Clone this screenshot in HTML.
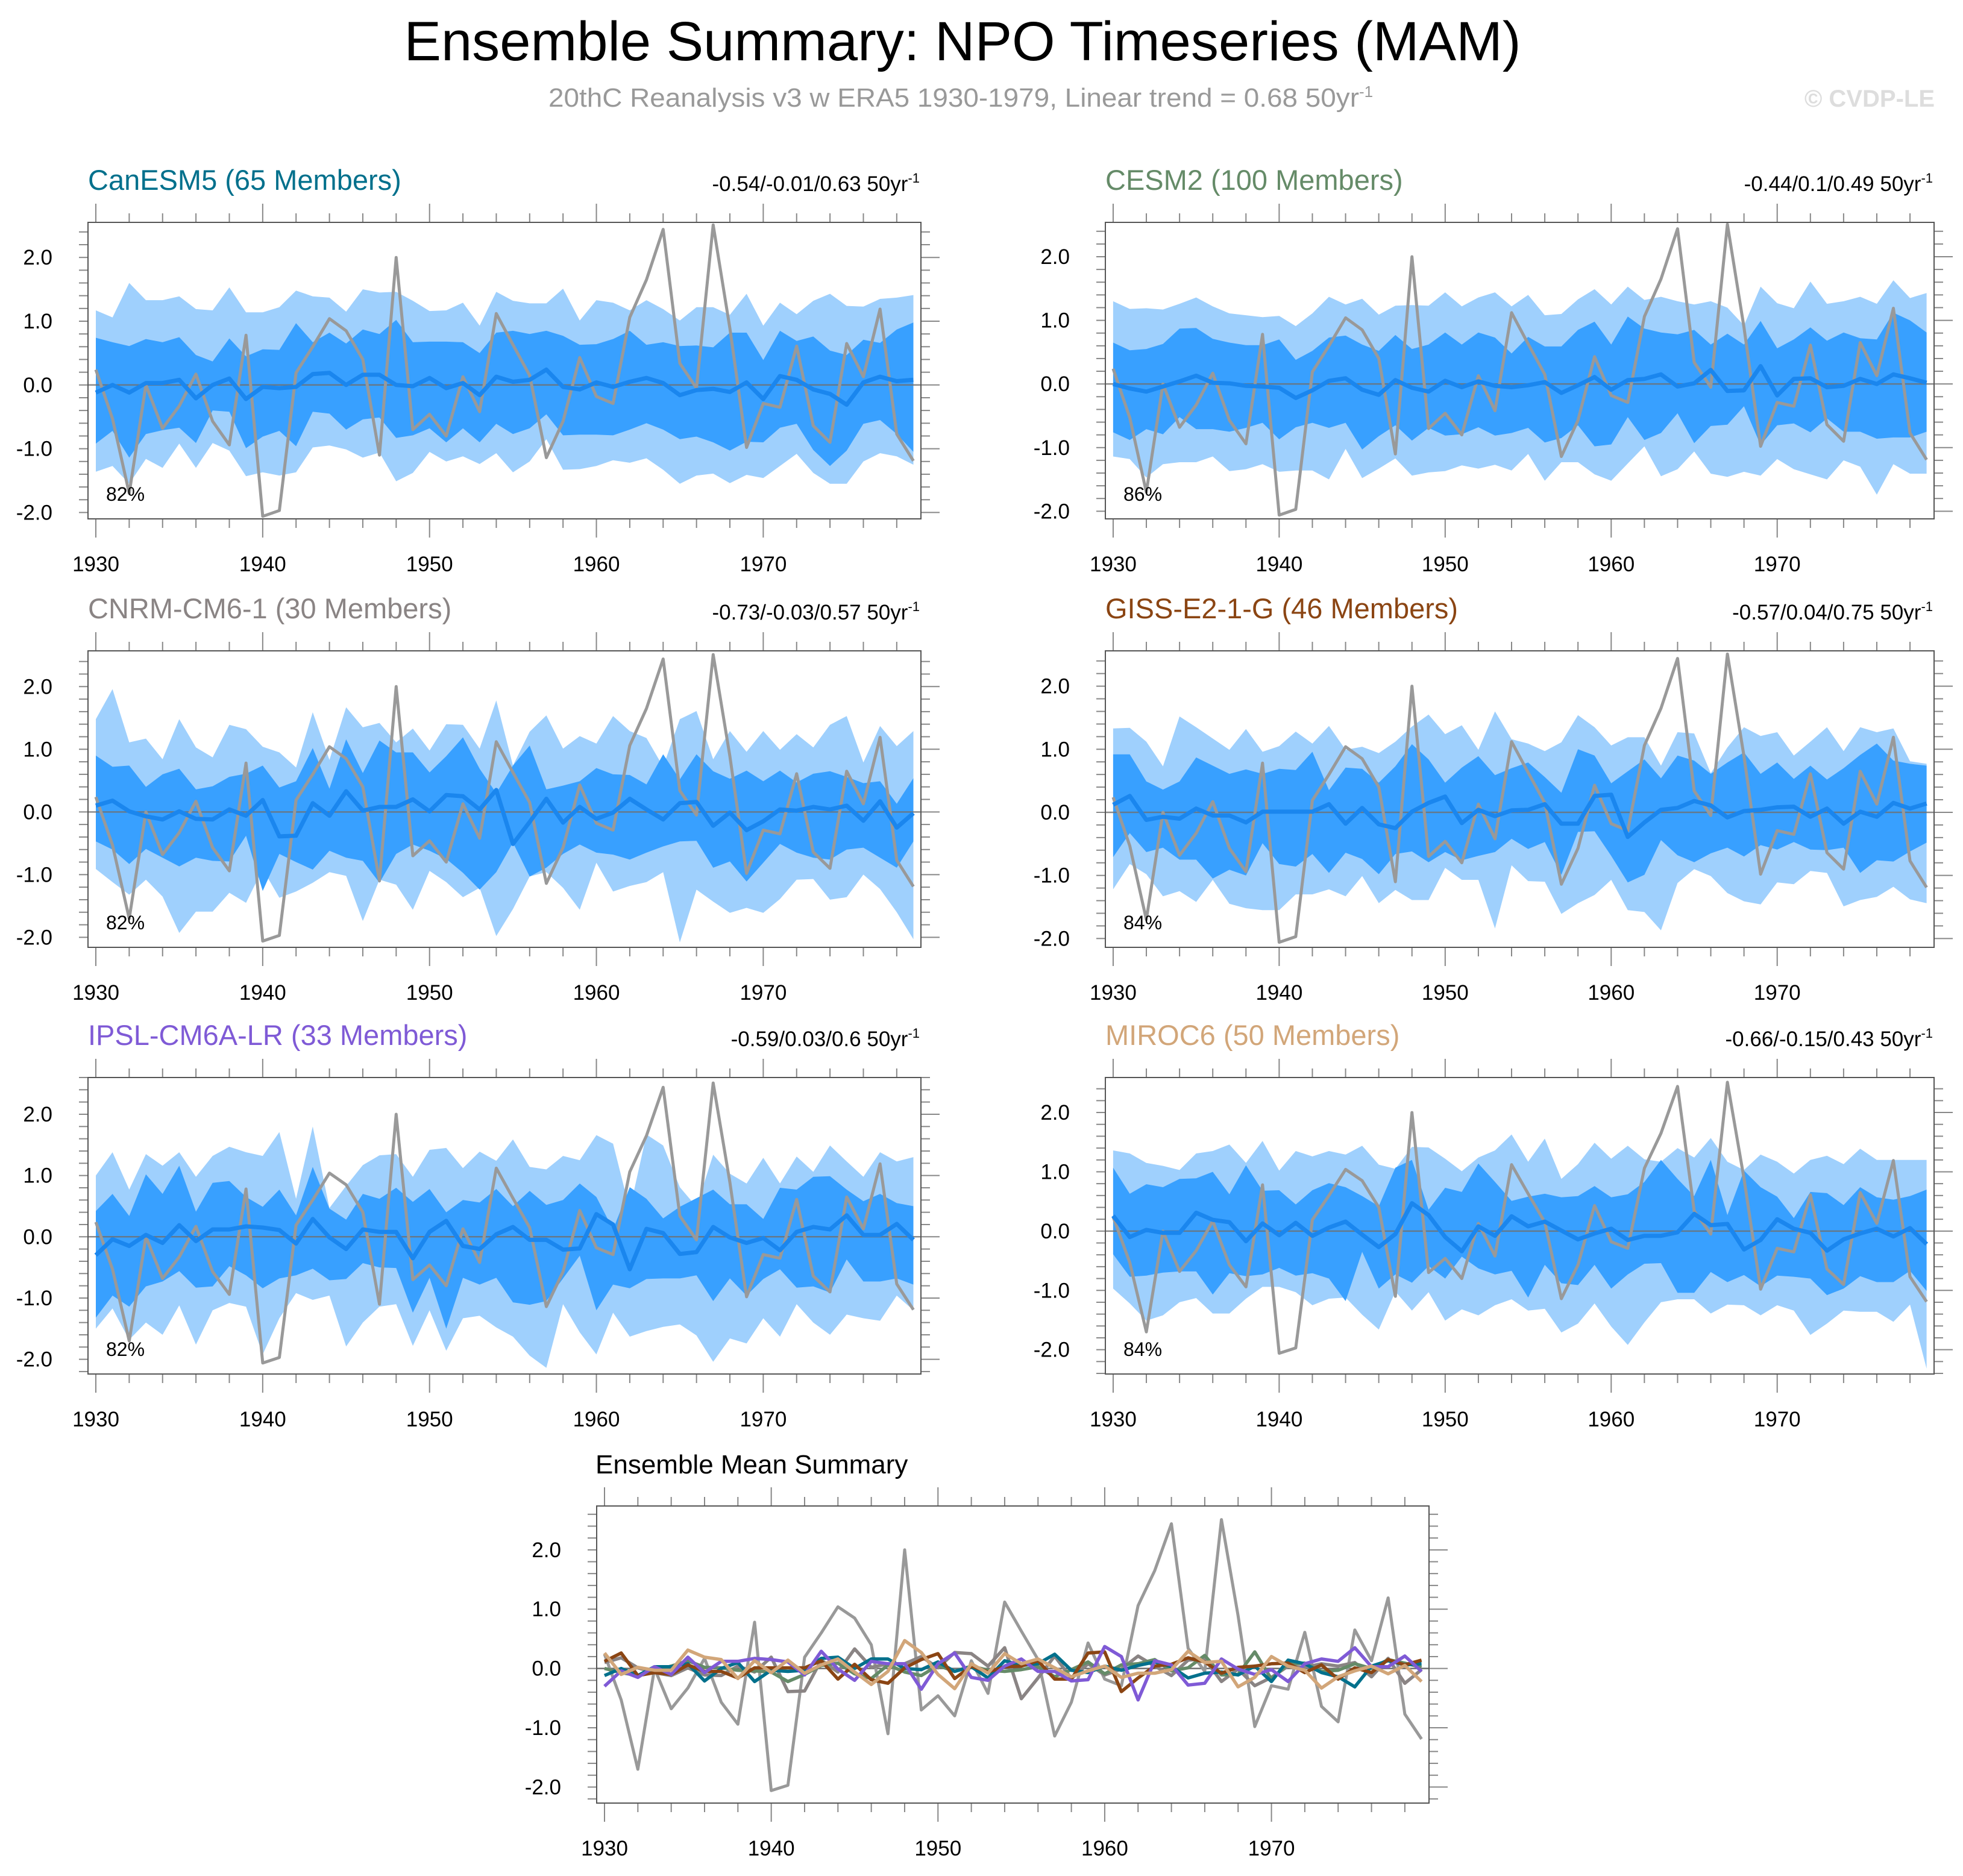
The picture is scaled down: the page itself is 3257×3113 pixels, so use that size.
<!DOCTYPE html>
<html><head><meta charset="utf-8"><title>Ensemble Summary: NPO Timeseries (MAM)</title>
<style>html,body{margin:0;padding:0;background:#fff}svg{display:block}text{font-family:"Liberation Sans",Arial,sans-serif}</style>
</head><body>
<svg id="fig" xmlns="http://www.w3.org/2000/svg" width="3257" height="3113" viewBox="0 0 3257 3113">
<rect width="3257" height="3113" fill="#fff"/>
<text x="1597" y="100" text-anchor="middle" font-size="92" textLength="1853" lengthAdjust="spacingAndGlyphs" fill="#000">Ensemble Summary: NPO Timeseries (MAM)</text>
<text x="910" y="177" font-size="44" fill="#999"><tspan textLength="1345" lengthAdjust="spacingAndGlyphs">20thC Reanalysis v3 w ERA5 1930-1979, Linear trend = 0.68 50yr</tspan><tspan dy="-16" font-size="26">-1</tspan></text>
<text x="3210" y="177" text-anchor="end" font-size="40" font-weight="bold" fill="#ddd">© CVDP-LE</text>
<g id="panels"></g>
</svg>
<script>
const startYear = 1930;
const obs = [0.24,-0.53,-1.70,0.0,-0.68,-0.33,0.17,-0.57,-0.94,0.78,-2.06,-1.97,0.19,0.6,1.04,0.85,0.4,-1.1,2.0,-0.7,-0.46,-0.8,0.13,-0.42,1.12,0.63,0.15,-1.14,-0.57,0.43,-0.18,-0.29,1.06,1.65,2.44,0.34,-0.05,2.51,0.89,-0.98,-0.29,-0.35,0.61,-0.64,-0.9,0.65,0.13,1.19,-0.77,-1.19];

const canHiOut = [1.17,1.06,1.6,1.33,1.33,1.39,1.19,1.17,1.53,1.14,1.14,1.22,1.48,1.39,1.37,1.15,1.5,1.45,1.46,1.32,1.16,1.17,1.29,0.93,1.46,1.32,1.28,1.28,1.51,1.01,1.33,1.29,1.17,1.33,1.19,1.01,1.22,1.22,1.1,1.43,0.93,1.29,1.11,1.32,1.43,1.24,1.23,1.35,1.37,1.41];
const canHiIn = [0.74,0.67,0.61,0.72,0.67,0.75,0.47,0.37,0.73,0.45,0.56,0.55,0.97,0.67,0.82,0.65,0.87,0.8,1.02,0.67,0.68,0.68,0.67,0.5,0.82,0.85,0.8,0.85,0.77,0.63,0.64,0.72,0.85,0.63,0.67,0.61,0.62,0.59,0.82,0.82,0.39,0.85,0.69,0.76,0.54,0.47,0.71,0.66,0.87,0.98];
const canLoIn = [-0.92,-0.72,-1.14,-0.77,-0.71,-0.67,-0.91,-0.4,-0.42,-0.99,-0.81,-0.72,-0.96,-0.42,-0.45,-0.7,-0.54,-0.51,-0.83,-0.79,-0.68,-0.9,-0.68,-0.9,-0.61,-0.77,-0.68,-0.46,-0.79,-0.78,-0.78,-0.79,-0.7,-0.6,-0.7,-0.85,-0.81,-0.9,-1.03,-0.89,-0.9,-0.67,-0.61,-1.02,-1.27,-1.03,-0.61,-0.55,-0.77,-1.05];
const canLoOut = [-1.36,-1.27,-1.55,-1.16,-1.3,-0.92,-1.3,-0.91,-1.03,-1.43,-1.37,-1.42,-1.37,-0.98,-0.95,-1.01,-1.14,-1.06,-1.51,-1.38,-1.05,-1.2,-1.12,-1.24,-1.07,-1.37,-1.2,-0.85,-1.33,-1.32,-1.27,-1.18,-1.22,-1.15,-1.33,-1.55,-1.42,-1.39,-1.54,-1.41,-1.46,-1.27,-1.08,-1.38,-1.55,-1.55,-1.2,-1.07,-1.12,-1.25];
const canMean = [-0.12,0,-0.12,0.03,0.03,0.08,-0.21,0,0.1,-0.22,-0.03,-0.05,-0.03,0.17,0.19,0,0.16,0.16,0,-0.02,0.11,-0.05,0.03,-0.16,0.13,0.05,0.08,0.24,-0.03,-0.07,0.04,-0.03,0.05,0.11,0.03,-0.16,-0.08,-0.06,-0.11,0.04,-0.22,0.14,0.08,-0.07,-0.14,-0.31,0.04,0.13,0.06,0.08];

const cesHiOut = [1.30,1.18,1.19,1.17,1.26,1.36,1.22,1.11,1.08,1.05,1.07,0.91,1.11,1.37,1.25,1.34,1.09,1.23,1.24,1.23,1.44,1.22,1.36,1.44,1.22,1.40,1.08,1.10,1.33,1.49,1.25,1.53,1.32,1.37,1.30,1.25,1.30,1.20,0.92,1.53,1.27,1.19,1.61,1.26,1.30,1.37,1.26,1.63,1.35,1.43];
const cesHiIn = [0.65,0.53,0.55,0.63,0.87,0.88,0.71,0.65,0.61,0.61,0.70,0.38,0.52,0.73,0.76,0.62,0.52,0.77,0.55,0.62,0.81,0.62,0.81,0.73,0.48,0.74,0.59,0.59,0.85,0.98,0.62,1.06,0.87,0.81,0.78,0.85,0.62,0.79,0.62,0.99,0.56,0.70,0.89,0.68,0.81,0.72,0.70,1.12,1.00,0.81];
const cesLoIn = [-0.76,-0.88,-0.71,-0.79,-0.52,-0.71,-0.71,-0.75,-0.69,-0.61,-0.87,-0.68,-0.61,-0.69,-0.61,-1.03,-0.82,-0.65,-0.89,-0.69,-0.81,-0.79,-0.68,-0.81,-0.77,-0.69,-0.92,-0.85,-0.65,-0.98,-0.95,-0.52,-0.88,-0.77,-0.46,-0.93,-0.66,-0.64,-0.35,-0.96,-0.65,-0.62,-0.76,-0.54,-0.75,-0.75,-0.86,-0.84,-0.84,-0.75];
const cesLoOut = [-1.14,-1.18,-1.47,-1.26,-1.23,-1.23,-1.14,-1.37,-1.34,-1.26,-1.38,-1.36,-1.36,-1.50,-1.02,-1.48,-1.33,-1.17,-1.44,-1.39,-1.37,-1.28,-1.33,-1.27,-1.36,-1.10,-1.52,-1.23,-1.23,-1.42,-1.52,-1.25,-0.98,-1.45,-1.34,-1.06,-1.41,-1.46,-1.38,-1.44,-1.18,-1.34,-1.42,-1.50,-1.20,-1.30,-1.74,-1.26,-1.41,-1.41];
const cesMean = [0,-0.07,-0.12,-0.04,0.04,0.13,0.02,0.01,-0.03,-0.04,-0.06,-0.22,-0.10,0.05,0.09,-0.09,-0.17,0.06,-0.06,-0.12,0.05,-0.05,0.04,-0.03,-0.05,-0.02,0.03,-0.14,-0.02,0.11,-0.09,0.06,0.08,0.15,-0.04,0.01,0.22,-0.11,-0.10,0.28,-0.18,0.08,0.09,-0.05,-0.03,0.08,0,0.15,0.09,0.02];

const cnrHiOut = [1.48,1.96,1.11,1.17,0.84,1.48,1.03,0.87,1.39,1.32,1.04,0.95,0.71,1.59,0.83,1.67,1.35,1.42,1.11,1.33,0.98,1.40,1.39,1.01,1.78,0.74,1.28,1.54,1.01,1.21,1.09,1.53,1.29,1.18,0.72,1.48,1.61,0.84,1.29,0.96,1.29,0.99,1.24,1.03,1.39,1.53,0.79,1.37,1.05,1.29];
const cnrHiIn = [0.90,0.72,0.74,0.40,0.60,0.69,0.36,0.41,0.56,0.61,0.74,0.39,0.49,1.02,0.37,1.16,0.62,1.14,0.95,0.95,0.63,0.89,1.19,0.69,0.30,0.74,1.06,0.36,0.42,0.49,0.70,0.60,0.59,0.44,0.92,0.52,0.92,0.65,0.53,0.66,0.49,0.66,0.47,0.61,0.65,0.56,0.46,0.49,0.13,0.54];
const cnrLoIn = [-0.47,-0.60,-0.83,-0.59,-0.73,-0.87,-0.73,-0.78,-0.79,-0.38,-1.26,-0.67,-0.80,-0.92,-0.62,-0.73,-0.78,-1.13,-0.67,-0.52,-0.62,-0.75,-0.97,-1.24,-0.96,-0.49,-1.03,-0.89,-0.67,-0.52,-0.65,-0.68,-0.76,-0.65,-0.55,-0.47,-0.46,-0.89,-0.79,-1.11,-0.81,-0.51,-0.65,-0.73,-0.76,-0.60,-0.57,-0.73,-0.89,-0.47];
const cnrLoOut = [-0.91,-1.12,-1.32,-1.08,-1.35,-1.93,-1.59,-1.59,-1.29,-1.45,-0.91,-1.37,-1.27,-1.13,-0.96,-1.02,-1.74,-1.08,-1.16,-1.56,-0.94,-1.12,-1.36,-1.21,-1.98,-1.55,-1.03,-0.96,-1.21,-1.56,-0.81,-1.27,-1.18,-1.12,-0.96,-2.08,-1.24,-1.43,-1.61,-1.53,-1.61,-1.39,-1.08,-1.07,-1.40,-1.36,-1.00,-1.23,-1.60,-2.03];
const cnrMean = [0.10,0.18,0.01,-0.07,-0.12,0.01,-0.11,-0.12,0.04,-0.06,0.19,-0.39,-0.38,0.14,-0.06,0.33,0.02,0.08,0.08,0.20,0.01,0.27,0.25,0.04,0.35,-0.51,-0.16,0.21,-0.17,0.08,-0.11,-0.01,0.21,0.04,-0.12,0.14,0.16,-0.22,-0.01,-0.29,-0.15,0.04,0.02,0.08,0.04,0.10,-0.14,0.17,-0.25,-0.02];

const gisHiOut = [1.33,1.34,1.12,0.73,1.52,1.35,1.17,0.99,1.32,0.96,1.05,1.28,1.09,1.37,0.99,1.04,0.94,1.12,1.36,1.55,1.24,1.38,0.99,1.60,1.16,1.09,0.97,1.11,1.54,1.35,1.06,1.19,1.19,0.74,1.27,1.25,0.62,1.03,1.35,1.21,1.27,0.90,1.12,1.35,0.97,1.35,1.27,1.33,0.81,0.77];
const gisHiIn = [0.92,0.92,0.49,0.36,0.49,0.87,0.74,0.61,0.68,0.61,0.69,0.67,0.96,0.35,0.71,0.69,0.47,0.73,1.08,0.84,0.47,0.71,0.89,0.59,0.70,0.79,0.56,0.31,1.00,0.90,0.46,0.65,0.84,0.54,0.90,0.82,0.61,0.79,0.95,0.61,0.79,0.53,0.74,0.52,0.70,0.91,1.09,0.82,0.77,0.74];
const gisLoIn = [-0.71,-0.33,-0.63,-0.56,-0.75,-0.75,-1.05,-0.91,-1.00,-0.49,-0.82,-0.86,-0.66,-0.96,-0.64,-0.74,-0.98,-0.66,-0.62,-0.79,-0.63,-0.76,-0.69,-0.63,-0.42,-0.58,-0.47,-0.99,-0.31,-0.30,-0.69,-1.11,-0.99,-0.44,-0.68,-0.79,-0.65,-0.56,-0.70,-0.52,-0.59,-0.47,-0.59,-0.60,-0.56,-0.96,-0.76,-0.78,-0.62,-0.48];
const gisLoOut = [-1.22,-0.82,-0.98,-1.33,-1.25,-1.42,-1.07,-1.45,-1.52,-1.55,-1.55,-1.30,-1.30,-1.22,-1.33,-1.01,-1.44,-1.23,-1.39,-1.39,-0.88,-1.07,-1.07,-1.84,-0.84,-1.09,-1.10,-1.61,-1.44,-1.31,-1.07,-1.55,-1.58,-1.87,-1.12,-0.90,-1.01,-1.28,-1.41,-1.46,-1.11,-1.14,-0.93,-0.96,-1.49,-1.39,-1.34,-1.18,-1.38,-1.44];
const gisMean = [0.12,0.26,-0.12,-0.07,-0.10,0.06,-0.05,-0.05,-0.16,0.01,0.01,0.01,0.01,0.13,-0.18,0.07,-0.19,-0.25,0.01,0.15,0.25,-0.17,0.04,-0.06,0.03,0.04,0.13,-0.18,-0.18,0.26,0.28,-0.39,-0.16,0.04,0.07,0.18,0.11,-0.08,0.02,0.04,0.08,0.09,-0.07,0.06,-0.18,0.01,-0.07,0.15,0.06,0.14];

const ipsHiOut = [1.00,1.38,0.77,1.35,1.16,1.38,0.98,1.32,1.47,1.38,1.32,1.71,0.62,1.80,0.47,0.83,1.17,1.33,1.35,0.98,1.42,1.45,1.12,1.39,1.24,1.59,1.14,1.10,1.32,1.25,1.66,1.52,0.44,1.67,1.49,0.81,0.49,1.34,1.03,0.87,1.29,0.87,1.31,1.06,1.49,1.23,0.98,1.38,1.23,1.30];
const ipsHiIn = [0.42,0.70,0.34,1.02,0.70,1.16,0.41,0.88,0.91,0.65,0.49,0.77,0.35,1.14,0.46,0.28,0.70,0.62,0.80,0.57,0.78,0.40,0.60,0.56,0.78,0.50,0.75,0.52,0.60,0.87,0.65,0.12,0.81,0.62,0.30,0.49,0.63,0.77,0.53,0.53,0.29,0.80,0.77,0.98,0.99,0.77,0.58,0.70,0.55,0.50];
const ipsLoIn = [-1.32,-0.96,-1.14,-0.81,-0.73,-0.56,-0.83,-0.81,-0.48,-0.63,-0.84,-0.68,-0.63,-0.52,-0.71,-0.69,-0.43,-0.50,-0.51,-1.24,-0.67,-1.50,-0.67,-0.78,-0.67,-1.07,-1.11,-1.05,-0.68,-0.31,-1.20,-0.78,-0.84,-0.69,-0.68,-0.68,-0.63,-1.05,-0.68,-0.96,-0.69,-0.53,-0.83,-0.81,-0.91,-0.37,-0.73,-0.73,-0.68,-0.78];
const ipsLoOut = [-1.50,-1.17,-1.68,-1.40,-1.60,-1.12,-1.76,-1.20,-1.08,-1.14,-1.92,-1.33,-0.92,-1.03,-0.96,-1.79,-1.40,-1.14,-1.10,-1.78,-1.20,-1.86,-1.33,-1.29,-1.48,-1.63,-1.94,-2.14,-1.10,-1.56,-1.92,-1.24,-1.63,-1.54,-1.47,-1.43,-1.61,-2.04,-1.66,-1.74,-1.33,-1.63,-1.10,-1.40,-1.60,-1.27,-1.33,-1.37,-0.96,-1.20];
const ipsMean = [-0.30,-0.04,-0.15,0.03,-0.10,0.19,-0.07,0.12,0.12,0.17,0.15,0.11,-0.11,0.29,-0.01,-0.20,0.12,0.08,0.08,-0.35,0.08,0.26,-0.15,-0.20,0.04,0.16,-0.05,-0.05,-0.21,-0.19,0.37,0.20,-0.53,0.13,0.06,-0.28,-0.25,0.16,-0.01,-0.10,-0.02,-0.22,0.08,0.16,0.12,0.35,0.03,0.03,0.21,-0.05];

const mirHiOut = [1.36,1.31,1.15,1.10,1.03,1.31,1.35,1.46,1.15,1.52,1.02,1.35,1.26,1.35,1.29,1.44,1.12,1.05,1.42,1.41,1.22,1.01,1.24,1.36,1.63,1.17,1.56,0.88,1.13,1.49,1.22,1.44,1.21,1.17,1.40,1.24,1.57,1.17,1.03,1.29,1.17,0.97,1.20,1.27,1.13,1.39,1.20,1.20,1.20,1.20];
const mirHiIn = [1.07,0.63,0.79,0.74,0.88,0.89,1.00,0.62,1.11,0.68,0.69,0.45,0.69,0.81,0.74,0.59,0.42,1.07,1.20,0.36,0.73,0.66,1.14,0.83,0.51,0.58,0.63,0.57,0.59,0.76,0.57,0.62,0.83,1.20,0.88,0.59,1.20,0.27,1.02,0.74,0.58,0.22,0.66,0.64,0.44,0.74,0.57,0.53,0.59,0.70];
const mirLoIn = [-0.39,-0.77,-0.75,-0.70,-0.68,-0.68,-1.07,-0.71,-0.76,-0.73,-0.62,-0.75,-0.71,-0.80,-1.18,-0.35,-0.97,-0.73,-0.87,-0.59,-0.80,-0.43,-0.63,-0.73,-0.67,-1.12,-0.57,-0.88,-0.91,-0.57,-0.97,-0.73,-0.55,-0.54,-1.04,-1.04,-0.69,-0.86,-0.74,-0.93,-0.75,-0.77,-0.80,-1.08,-0.97,-0.76,-0.86,-0.86,-0.67,-1.01];
const mirLoOut = [-0.97,-1.22,-1.51,-1.42,-1.20,-1.13,-1.39,-1.39,-1.14,-0.94,-0.94,-1.03,-1.25,-1.14,-1.12,-1.41,-1.66,-1.02,-1.34,-1.03,-1.51,-1.32,-1.42,-1.25,-1.15,-1.34,-1.31,-1.71,-1.56,-1.22,-1.61,-1.92,-1.54,-1.20,-1.15,-1.15,-1.39,-1.24,-1.25,-1.42,-1.25,-1.34,-1.75,-1.56,-1.34,-1.36,-1.36,-1.53,-1.24,-2.32];
const mirMean = [0.26,-0.10,0.02,-0.03,-0.03,0.31,0.19,0.15,-0.17,0.13,-0.07,0.14,-0.08,0.06,0.16,-0.06,-0.27,-0.05,0.47,0.27,-0.10,-0.34,0.08,-0.08,0.25,0.08,0.16,0.01,-0.14,-0.04,0.04,-0.15,-0.08,-0.08,-0.02,0.29,0.10,0.12,-0.31,-0.15,0.20,0.04,-0.03,-0.33,-0.14,-0.04,0.04,-0.09,0.05,-0.22];

const modelNames = ["CanESM5 (65 Members)","CESM2 (100 Members)","CNRM-CM6-1 (30 Members)","GISS-E2-1-G (46 Members)","IPSL-CM6A-LR (33 Members)","MIROC6 (50 Members)"];
const trendLabels = ["-0.54/-0.01/0.63 50yr","-0.44/0.1/0.49 50yr","-0.73/-0.03/0.57 50yr","-0.57/0.04/0.75 50yr","-0.59/0.03/0.6 50yr","-0.66/-0.15/0.43 50yr"];
const pctLabels = ["82%","86%","82%","84%","82%","84%"];
const yTickVals = [-2,-1,0,1,2];
const xTickYears = [1930,1940,1950,1960,1970];

const NS = "http://www.w3.org/2000/svg";
const root = document.getElementById("panels");
function mk(tag, attrs, parent){ const e=document.createElementNS(NS,tag); for(const k in attrs) e.setAttribute(k,attrs[k]); (parent||root).appendChild(e); return e; }

const models = [
 {hiO:canHiOut,hiI:canHiIn,loI:canLoIn,loO:canLoOut,mean:canMean,color:"#00708c",box:[146,369,1382,492],yr:[-2.10,2.55]},
 {hiO:cesHiOut,hiI:cesHiIn,loI:cesLoIn,loO:cesLoOut,mean:cesMean,color:"#658b68",box:[1834,369,1375,492],yr:[-2.12,2.54]},
 {hiO:cnrHiOut,hiI:cnrHiIn,loI:cnrLoIn,loO:cnrLoOut,mean:cnrMean,color:"#8a8484",box:[146,1080,1382,492],yr:[-2.16,2.57]},
 {hiO:gisHiOut,hiI:gisHiIn,loI:gisLoIn,loO:gisLoOut,mean:gisMean,color:"#8b4513",box:[1834,1080,1375,492],yr:[-2.14,2.56]},
 {hiO:ipsHiOut,hiI:ipsHiIn,loI:ipsLoIn,loO:ipsLoOut,mean:ipsMean,color:"#7f5ad6",box:[146,1788,1382,492],yr:[-2.24,2.60]},
 {hiO:mirHiOut,hiI:mirHiIn,loI:mirLoIn,loO:mirLoOut,mean:mirMean,color:"#d2a679",box:[1834,1788,1375,492],yr:[-2.41,2.59]}
];
const X0=1929.53, X1=1979.45;

function axes(box, yr){
  const [bx,by,bw,bh]=box;
  return {
    x: yv => bx + (yv - X0)/(X1-X0)*bw,
    y: v => by + bh - (v - yr[0])/(yr[1]-yr[0])*bh
  };
}
function linePath(vals, ax){ return vals.map((v,i)=>(i?"L":"M")+ax.x(startYear+i).toFixed(1)+","+ax.y(v).toFixed(1)).join(""); }
function bandPath(top, bot, ax){
  let d = top.map((v,i)=>(i?"L":"M")+ax.x(startYear+i).toFixed(1)+","+ax.y(v).toFixed(1)).join("");
  for(let i=bot.length-1;i>=0;i--) d += "L"+ax.x(startYear+i).toFixed(1)+","+ax.y(bot[i]).toFixed(1);
  return d+"Z";
}
function drawFrame(g, box, yr, ax, name){
  const [bx,by,bw,bh]=box;
  const tk = mk("g",{stroke:"#888","stroke-width":2},g);
  
  
  for(let yv=1930; yv<=1978; yv+=2){
    const major = (yv%10===0); const L = major?31:15; const xx=ax.x(yv);
    mk("line",{x1:xx,x2:xx,y1:by,y2:by-L},tk);
    mk("line",{x1:xx,x2:xx,y1:by+bh,y2:by+bh+L},tk);
  }
  for(let k=Math.ceil(yr[0]*5); k<=Math.floor(yr[1]*5); k++){
    const v=k/5, yy=ax.y(v), major=(k%5===0);
    mk("line",{x1:bx,x2:bx-15,y1:yy,y2:yy},tk);
    mk("line",{x1:bx+bw,x2:bx+bw+(major?31:15),y1:yy,y2:yy},tk);
  }
  const fr = mk("rect",{x:bx,y:by,width:bw,height:bh,fill:"none",stroke:"#555","stroke-width":2},g);
  
  
  yTickVals.forEach(v=>{
    const t = mk("text",{x:bx-59,y:ax.y(v)+12,"text-anchor":"end","font-size":35,fill:"#000"},g);
    
    
    t.textContent = v.toFixed(1);
  });
  xTickYears.forEach(yv=>{
    const t = mk("text",{x:ax.x(yv),y:by+bh+87,"text-anchor":"middle","font-size":35,fill:"#000"},g);
    
    
    t.textContent = yv;
  });
}

models.forEach((m, idx)=>{
  const g = mk("g",{});
  
  
  const ax = axes(m.box, m.yr);
  const [bx,by,bw,bh]=m.box;
  const outer = mk("path",{d:bandPath(m.hiO,m.loO,ax),fill:"#9fd0fd"},g);
  
  
  const inner = mk("path",{d:bandPath(m.hiI,m.loI,ax),fill:"#38a0ff"},g);
  
  
  const z = mk("line",{x1:bx,x2:bx+bw,y1:ax.y(0),y2:ax.y(0),stroke:"#6f6f6f","stroke-width":2.5,"stroke-opacity":0.8},g);
  
  
  const ob = mk("path",{d:linePath(obs,ax),fill:"none",stroke:"#999","stroke-width":5,"stroke-linejoin":"round"},g);
  
  
  const mn = mk("path",{d:linePath(m.mean,ax),fill:"none",stroke:"#1a86ee","stroke-width":7,"stroke-linejoin":"round"},g);
  
  
  drawFrame(g, m.box, m.yr, ax, 'panel-'+idx);
  const tt = mk("text",{x:bx,y:by-54,"font-size":47,fill:m.color},g);
  
  
  tt.textContent = modelNames[idx];
  const tr = mk("text",{x:bx+bw-2,y:by-52,"text-anchor":"end","font-size":35,fill:"#000"},g);
  
  
  tr.textContent = trendLabels[idx];
  const sup = mk("tspan",{dy:-14,"font-size":22},tr);
  sup.textContent = "-1";
  const pc = mk("text",{x:bx+30,y:by+bh-30,"font-size":32,fill:"#000"},g);
  
  
  pc.textContent = pctLabels[idx];
});

/* ensemble mean summary */
(function(){
  const box=[990,2499,1381,493], yr=[-2.27,2.74];
  const g = mk("g",{});
  
  
  const ax = axes(box, yr);
  const z = mk("line",{x1:box[0],x2:box[0]+box[2],y1:ax.y(0),y2:ax.y(0),stroke:"#6f6f6f","stroke-width":2.5},g);
  
  
  const ob = mk("path",{d:linePath(obs,ax),fill:"none",stroke:"#999","stroke-width":5,"stroke-linejoin":"round"},g);
  
  
  [2,1,0,3,4,5].forEach(i=>{
    const m = models[i];
    const p = mk("path",{d:linePath(m.mean,ax),fill:"none",stroke:m.color,"stroke-width":5.5,"stroke-linejoin":"round"},g);
    
    
  });
  drawFrame(g, box, yr, ax, 'summary');
  const tt = mk("text",{x:988,y:2445,"font-size":44,fill:"#000"},g);
  
  
  tt.textContent = "Ensemble Mean Summary";
})();
</script>
</body></html>
